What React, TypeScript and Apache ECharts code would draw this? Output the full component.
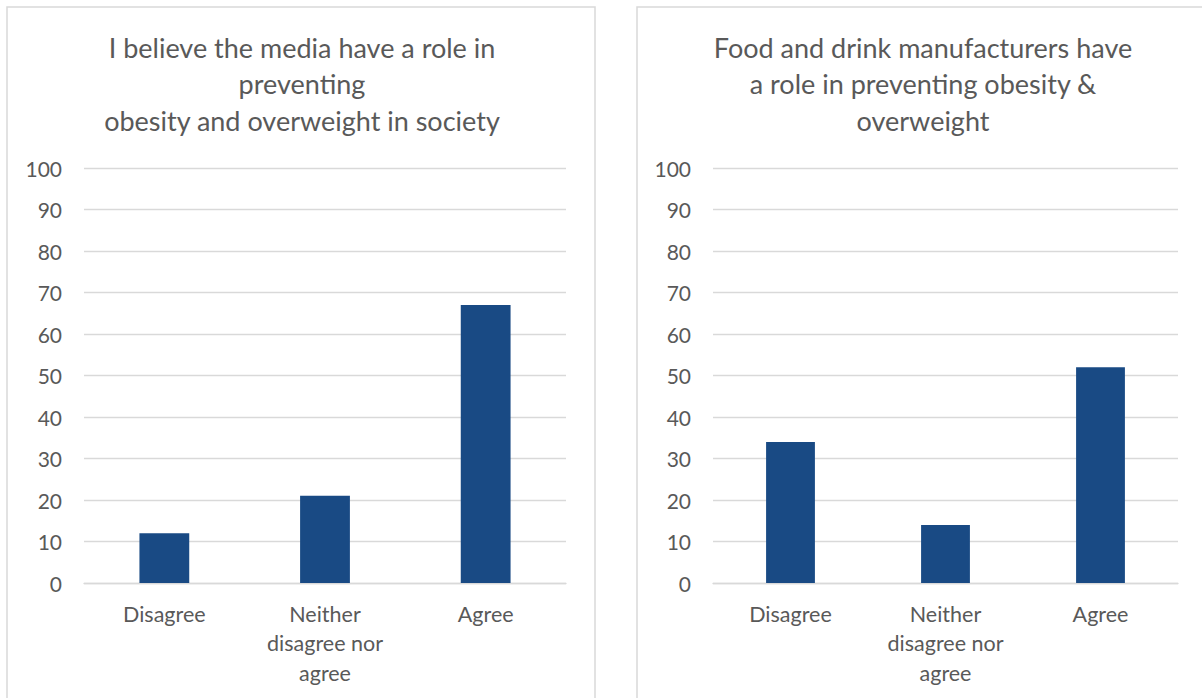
import React, { useEffect, useRef } from "react";
import * as echarts from "echarts";

const categories = ["Disagree", "Neither disagree nor agree", "Agree"];
const mediaValues = [12, 21, 67];
const manufacturerValues = [34, 14, 52];
const leftTitle = "I believe the media have a role in\npreventing\nobesity and overweight in society";
const rightTitle = "Food and drink manufacturers have\na role in preventing obesity &\noverweight";

const FONT = "Lato";
const TEXT = "#595959";
const GRID = "#d9d9d9";
const BAR = "#194a84";

export default function App() {
  const ref = useRef<HTMLDivElement>(null);
  useEffect(() => {
    if (!ref.current) return;
    const chart = echarts.init(ref.current, null, { renderer: "svg" });
    const wrap = (v: string) => v.replace("Neither ", "Neither\n").replace(" nor ", " nor\n");
    const xAxisBase = {
      type: "category" as const,
      data: categories,
      axisLine: { lineStyle: { color: GRID, width: 1.3 } },
      axisTick: { show: false },
      axisLabel: {
        color: TEXT,
        fontFamily: FONT,
        fontSize: 21.5,
        lineHeight: 29.5,
        margin: 16,
        interval: 0,
        formatter: wrap,
      },
    };
    const yAxisBase = {
      type: "value" as const,
      min: 0,
      max: 100,
      interval: 10,
      axisLine: { show: false },
      axisTick: { show: false },
      splitLine: { lineStyle: { color: GRID, width: 1.3 } },
      axisLabel: { color: TEXT, fontFamily: FONT, fontSize: 21, margin: 22 },
    };
    chart.setOption({
      animation: false,
      backgroundColor: "#ffffff",
      grid: [
        { left: 84, right: 636, top: 168, bottom: 115 },
        { left: 713, right: 24, top: 168, bottom: 115 },
      ],
      xAxis: [
        { ...xAxisBase, gridIndex: 0 },
        { ...xAxisBase, gridIndex: 1 },
      ],
      yAxis: [
        { ...yAxisBase, gridIndex: 0 },
        { ...yAxisBase, gridIndex: 1 },
      ],
      series: [
        {
          type: "bar",
          xAxisIndex: 0,
          yAxisIndex: 0,
          data: mediaValues,
          barWidth: "31%",
          itemStyle: { color: BAR },
        },
        {
          type: "bar",
          xAxisIndex: 1,
          yAxisIndex: 1,
          data: manufacturerValues,
          barWidth: "31.5%",
          itemStyle: { color: BAR },
        },
      ],
      graphic: [
        {
          type: "rect",
          shape: { x: 7, y: 7, width: 588, height: 720 },
          style: { fill: "none", stroke: GRID, lineWidth: 1.5 },
          silent: true,
          z: -1,
        },
        {
          type: "rect",
          shape: { x: 637, y: 7, width: 620, height: 720 },
          style: { fill: "none", stroke: GRID, lineWidth: 1.5 },
          silent: true,
          z: -1,
        },
        {
          type: "text",
          x: 302,
          y: 29,
          style: {
            text: leftTitle,
            textAlign: "center",
            fill: TEXT,
            fontFamily: FONT,
            fontSize: 27,
            lineHeight: 36.5,
          },
        },
        {
          type: "text",
          x: 923,
          y: 29,
          style: {
            text: rightTitle,
            textAlign: "center",
            fill: TEXT,
            fontFamily: FONT,
            fontSize: 27,
            lineHeight: 36.5,
          },
        },
      ],
    });
    return () => chart.dispose();
  }, []);
  return (
    <div
      ref={ref}
      style={{ position: "absolute", left: 0, top: 0, width: 1202, height: 698 }}
    />
  );
}
